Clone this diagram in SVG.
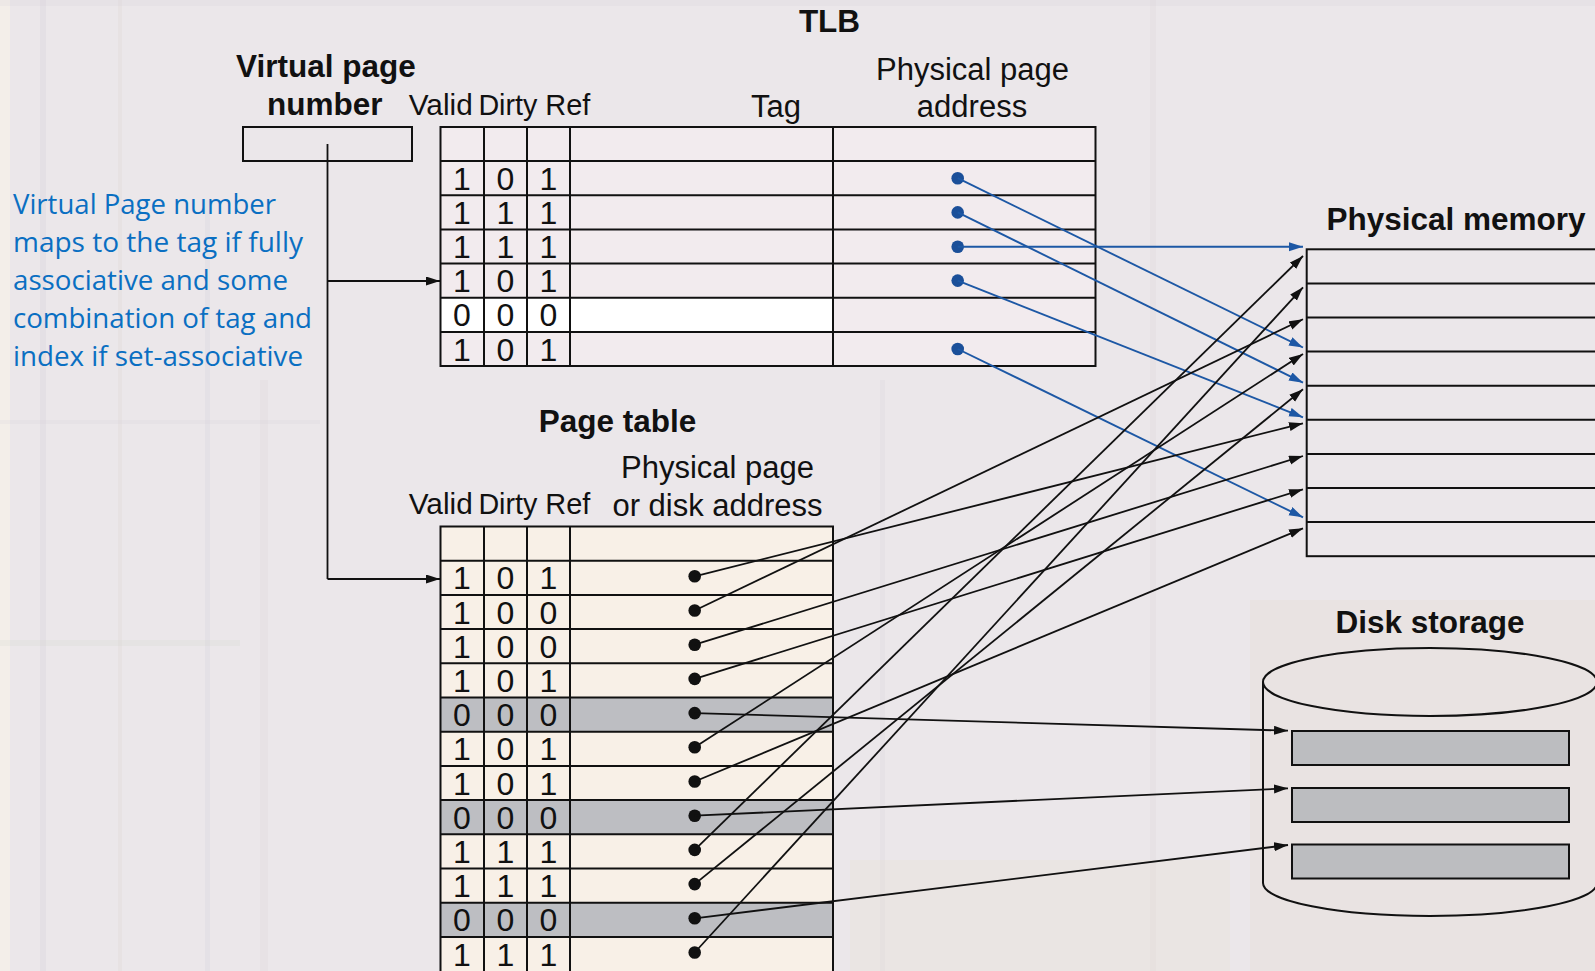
<svg xmlns="http://www.w3.org/2000/svg" width="1595" height="971" viewBox="0 0 1595 971">
  <style>
    .lbl { font-family: "Liberation Sans", Arial, sans-serif; fill: #111; font-size: 31px; }
    .bold { font-family: "Liberation Sans", Arial, sans-serif; fill: #111; font-size: 31.5px; font-weight: bold; }
    .hdr { font-family: "Liberation Sans", Arial, sans-serif; fill: #111; font-size: 30px; }
    .bit { font-family: "Liberation Sans", Arial, sans-serif; fill: #111; font-size: 32px; text-anchor: middle; }
    .note { font-family: "Open Sans", "Noto Sans", sans-serif; fill: #0a6fc2; font-size: 28px; }
    .grid { fill: none; stroke: #111; stroke-width: 2; }
    .cellT { fill: #f7eef0; fill-opacity: 0.6; stroke: none; }
    .cellP { fill: #fcf3e6; fill-opacity: 0.75; stroke: none; }
    .gray { fill: #bdbec2; stroke: none; }
    .white { fill: #ffffff; stroke: none; }
    .wire { fill: none; stroke: #111; stroke-width: 1.8; }
    .wireB { fill: none; stroke: #1d58a5; stroke-width: 1.9; }
    .dot { fill: #111; }
    .dotB { fill: #1b4f99; }
    .stripe { opacity: 0.18; }
  </style>
  <defs>
    <marker id="arrowK" markerUnits="userSpaceOnUse" markerWidth="15" markerHeight="10" refX="14" refY="4.5" orient="auto">
      <path d="M0,0 L14,4.5 L0,9 z" fill="#111"/>
    </marker>
    <marker id="arrowB" markerUnits="userSpaceOnUse" markerWidth="15" markerHeight="10" refX="14" refY="4.5" orient="auto">
      <path d="M0,0 L14,4.5 L0,9 z" fill="#1d58a5"/>
    </marker>
  </defs>

  <!-- faint textured backdrop -->
  <g id="backdrop">
    <rect x="0" y="0" width="1595" height="971" fill="#ebe7ea"/>
    <rect x="0" y="0" width="10" height="971" fill="#f6f1e8" opacity="0.7"/>
    <rect class="stripe" x="40" y="0" width="6" height="971" fill="#c9c4d4"/>
    <rect class="stripe" x="118" y="0" width="4" height="971" fill="#d8cfc6"/>
    <rect class="stripe" x="205" y="200" width="5" height="771" fill="#c8c6d6"/>
    <rect class="stripe" x="260" y="380" width="8" height="591" fill="#d6ccd0"/>
    <rect class="stripe" x="0" y="640" width="240" height="6" fill="#cfd4c6"/>
    <rect class="stripe" x="0" y="420" width="320" height="4" fill="#d5cdd8"/>
    <rect class="stripe" x="880" y="380" width="5" height="591" fill="#d2cdd6"/>
    <rect class="stripe" x="1150" y="0" width="6" height="971" fill="#d6cfd2"/>
    <rect class="stripe" x="1250" y="600" width="345" height="371" fill="#e6d2c4"/>
    <rect class="stripe" x="850" y="860" width="380" height="111" fill="#e8e0c8"/>
    <rect class="stripe" x="0" y="0" width="1595" height="6" fill="#d2ccd6"/>
  </g>

  <!-- virtual page number register -->
  <g id="vpn">
    <text class="bold" x="236" y="77">Virtual page</text>
    <text class="bold" x="267" y="115">number</text>
    <rect class="grid" x="243" y="127" width="169" height="34"/>
  </g>

  <!-- explanatory note -->
  <g id="note">
    <text class="note" x="13" y="213.5" textLength="263" lengthAdjust="spacingAndGlyphs">Virtual Page number</text>
    <text class="note" x="13" y="251.5" textLength="290" lengthAdjust="spacingAndGlyphs">maps to the tag if fully</text>
    <text class="note" x="13" y="289.5" textLength="275" lengthAdjust="spacingAndGlyphs">associative and some</text>
    <text class="note" x="13" y="327.5" textLength="299" lengthAdjust="spacingAndGlyphs">combination of tag and</text>
    <text class="note" x="13" y="365.5" textLength="290" lengthAdjust="spacingAndGlyphs">index if set-associative</text>
  </g>

  <!-- TLB -->
  <g id="tlb">
    <text class="bold" x="829.5" y="32" text-anchor="middle">TLB</text>
    <text class="hdr" x="408.7" y="115" textLength="64" lengthAdjust="spacingAndGlyphs">Valid</text>
    <text class="hdr" x="478.4" y="115" textLength="59" lengthAdjust="spacingAndGlyphs">Dirty</text>
    <text class="hdr" x="545.3" y="115" textLength="45" lengthAdjust="spacingAndGlyphs">Ref</text>
    <text class="lbl" x="776" y="117" text-anchor="middle">Tag</text>
    <text class="lbl" x="972.5" y="80" text-anchor="middle">Physical page</text>
    <text class="lbl" x="972" y="117" text-anchor="middle">address</text>

    <rect class="cellT" x="440.5" y="127" width="655" height="239"/>
    <rect class="white" x="440.5" y="297.7" width="392.5" height="34.2"/>
    <rect class="grid" x="440.5" y="127" width="655" height="239"/>
    <path class="grid" d="M440.5,161.1H1095.5 M440.5,195.3H1095.5 M440.5,229.4H1095.5 M440.5,263.6H1095.5 M440.5,297.7H1095.5 M440.5,331.9H1095.5"/>
    <path class="grid" d="M484,127V366 M527,127V366 M570,127V366 M833,127V366"/>

    <g class="bits">
      <text class="bit" x="462" y="189.7">1</text><text class="bit" x="505.5" y="189.7">0</text><text class="bit" x="548.5" y="189.7">1</text>
      <text class="bit" x="462" y="223.9">1</text><text class="bit" x="505.5" y="223.9">1</text><text class="bit" x="548.5" y="223.9">1</text>
      <text class="bit" x="462" y="258">1</text><text class="bit" x="505.5" y="258">1</text><text class="bit" x="548.5" y="258">1</text>
      <text class="bit" x="462" y="292.1">1</text><text class="bit" x="505.5" y="292.1">0</text><text class="bit" x="548.5" y="292.1">1</text>
      <text class="bit" x="462" y="326.3">0</text><text class="bit" x="505.5" y="326.3">0</text><text class="bit" x="548.5" y="326.3">0</text>
      <text class="bit" x="462" y="360.5">1</text><text class="bit" x="505.5" y="360.5">0</text><text class="bit" x="548.5" y="360.5">1</text>
    </g>
    <circle class="dotB" cx="957.7" cy="178.2" r="6.3"/>
    <circle class="dotB" cx="957.7" cy="212.4" r="6.3"/>
    <circle class="dotB" cx="957.7" cy="246.8" r="6.3"/>
    <circle class="dotB" cx="957.7" cy="280.6" r="6.3"/>
    <circle class="dotB" cx="957.7" cy="349" r="6.3"/>
  </g>

  <!-- page table -->
  <g id="page-table">
    <text class="bold" x="617.5" y="432" text-anchor="middle">Page table</text>
    <text class="lbl" x="717.5" y="478" text-anchor="middle">Physical page</text>
    <text class="lbl" x="717.5" y="515.5" text-anchor="middle">or disk address</text>
    <text class="hdr" x="408.7" y="513.5" textLength="64" lengthAdjust="spacingAndGlyphs">Valid</text>
    <text class="hdr" x="478.4" y="513.5" textLength="59" lengthAdjust="spacingAndGlyphs">Dirty</text>
    <text class="hdr" x="545.3" y="513.5" textLength="45" lengthAdjust="spacingAndGlyphs">Ref</text>

    <rect class="cellP" x="440.5" y="526.5" width="392.5" height="446"/>
    <rect class="gray" x="440.5" y="697.5" width="392.5" height="34.2"/>
    <rect class="gray" x="440.5" y="800.1" width="392.5" height="34.2"/>
    <rect class="gray" x="440.5" y="902.7" width="392.5" height="34.2"/>
    <rect class="grid" x="440.5" y="526.5" width="392.5" height="446"/>
    <path class="grid" d="M440.5,560.7H833 M440.5,594.9H833 M440.5,629.1H833 M440.5,663.3H833 M440.5,697.5H833 M440.5,731.7H833 M440.5,765.9H833 M440.5,800.1H833 M440.5,834.3H833 M440.5,868.5H833 M440.5,902.7H833 M440.5,936.9H833"/>
    <path class="grid" d="M484,526.5V972 M527,526.5V972 M570,526.5V972"/>

    <g class="bits">
      <text class="bit" x="462" y="589.3">1</text><text class="bit" x="505.5" y="589.3">0</text><text class="bit" x="548.5" y="589.3">1</text>
      <text class="bit" x="462" y="623.5">1</text><text class="bit" x="505.5" y="623.5">0</text><text class="bit" x="548.5" y="623.5">0</text>
      <text class="bit" x="462" y="657.7">1</text><text class="bit" x="505.5" y="657.7">0</text><text class="bit" x="548.5" y="657.7">0</text>
      <text class="bit" x="462" y="691.9">1</text><text class="bit" x="505.5" y="691.9">0</text><text class="bit" x="548.5" y="691.9">1</text>
      <text class="bit" x="462" y="726.1">0</text><text class="bit" x="505.5" y="726.1">0</text><text class="bit" x="548.5" y="726.1">0</text>
      <text class="bit" x="462" y="760.3">1</text><text class="bit" x="505.5" y="760.3">0</text><text class="bit" x="548.5" y="760.3">1</text>
      <text class="bit" x="462" y="794.5">1</text><text class="bit" x="505.5" y="794.5">0</text><text class="bit" x="548.5" y="794.5">1</text>
      <text class="bit" x="462" y="828.7">0</text><text class="bit" x="505.5" y="828.7">0</text><text class="bit" x="548.5" y="828.7">0</text>
      <text class="bit" x="462" y="862.9">1</text><text class="bit" x="505.5" y="862.9">1</text><text class="bit" x="548.5" y="862.9">1</text>
      <text class="bit" x="462" y="897.1">1</text><text class="bit" x="505.5" y="897.1">1</text><text class="bit" x="548.5" y="897.1">1</text>
      <text class="bit" x="462" y="931.3">0</text><text class="bit" x="505.5" y="931.3">0</text><text class="bit" x="548.5" y="931.3">0</text>
      <text class="bit" x="462" y="965.5">1</text><text class="bit" x="505.5" y="965.5">1</text><text class="bit" x="548.5" y="965.5">1</text>
    </g>
    <circle class="dot" cx="694.7" cy="576.3" r="6.3"/>
    <circle class="dot" cx="694.7" cy="610.5" r="6.3"/>
    <circle class="dot" cx="694.7" cy="644.7" r="6.3"/>
    <circle class="dot" cx="694.7" cy="678.9" r="6.3"/>
    <circle class="dot" cx="694.7" cy="713.1" r="6.3"/>
    <circle class="dot" cx="694.7" cy="747.3" r="6.3"/>
    <circle class="dot" cx="694.7" cy="781.5" r="6.3"/>
    <circle class="dot" cx="694.7" cy="815.7" r="6.3"/>
    <circle class="dot" cx="694.7" cy="849.9" r="6.3"/>
    <circle class="dot" cx="694.7" cy="884.1" r="6.3"/>
    <circle class="dot" cx="694.7" cy="918.3" r="6.3"/>
    <circle class="dot" cx="694.7" cy="952.5" r="6.3"/>
  </g>

  <!-- physical memory -->
  <g id="physical-memory">
    <text class="bold" x="1326.5" y="230">Physical memory</text>
    <rect class="grid" x="1306.7" y="249.3" width="300" height="306.9"/>
    <path class="grid" d="M1306.7,283.4H1600 M1306.7,317.5H1600 M1306.7,351.6H1600 M1306.7,385.7H1600 M1306.7,419.8H1600 M1306.7,453.9H1600 M1306.7,488H1600 M1306.7,522.1H1600"/>
  </g>

  <!-- disk storage -->
  <g id="disk-storage">
    <text class="bold" x="1335.5" y="633">Disk storage</text>
    <ellipse class="grid" cx="1430" cy="682" rx="167" ry="34"/>
    <path class="grid" d="M1263,682V883 A167,33 0 0 0 1597,883 V682"/>
    <rect x="1292" y="731" width="277" height="34" fill="#bcbdc0" stroke="#111" stroke-width="2"/>
    <rect x="1292" y="788" width="277" height="34" fill="#bcbdc0" stroke="#111" stroke-width="2"/>
    <rect x="1292" y="844.5" width="277" height="34" fill="#bcbdc0" stroke="#111" stroke-width="2"/>
  </g>

  <!-- connectors -->
  <g id="connectors">
    <!-- virtual page number fan-out -->
    <path class="wire" d="M327.5,144V579 M327.5,281H440" marker-end="url(#arrowK)"/>
    <path class="wire" d="M327.5,579H440" marker-end="url(#arrowK)"/>

    <!-- TLB entries into physical memory -->
    <line class="wireB" x1="957.7" y1="178.2" x2="1303" y2="347.5" marker-end="url(#arrowB)"/>
    <line class="wireB" x1="957.7" y1="212.4" x2="1303" y2="382.7" marker-end="url(#arrowB)"/>
    <line class="wireB" x1="957.7" y1="246.8" x2="1303" y2="246.8" marker-end="url(#arrowB)"/>
    <line class="wireB" x1="957.7" y1="280.6" x2="1303" y2="417.3" marker-end="url(#arrowB)"/>
    <line class="wireB" x1="957.7" y1="349" x2="1303" y2="517.3" marker-end="url(#arrowB)"/>

    <!-- page table entries into physical memory -->
    <line class="wire" x1="694.7" y1="576.3" x2="1303" y2="423.3" marker-end="url(#arrowK)"/>
    <line class="wire" x1="694.7" y1="610.5" x2="1303" y2="319.3" marker-end="url(#arrowK)"/>
    <line class="wire" x1="694.7" y1="644.7" x2="1303" y2="456" marker-end="url(#arrowK)"/>
    <line class="wire" x1="694.7" y1="678.9" x2="1303" y2="489.3" marker-end="url(#arrowK)"/>
    <line class="wire" x1="694.7" y1="747.3" x2="1303" y2="354" marker-end="url(#arrowK)"/>
    <line class="wire" x1="694.7" y1="781.5" x2="1303" y2="528.3" marker-end="url(#arrowK)"/>
    <line class="wire" x1="694.7" y1="849.9" x2="1303" y2="256" marker-end="url(#arrowK)"/>
    <line class="wire" x1="694.7" y1="884.1" x2="1303" y2="389.3" marker-end="url(#arrowK)"/>
    <line class="wire" x1="694.7" y1="952.5" x2="1303" y2="287.3" marker-end="url(#arrowK)"/>

    <!-- page table entries out on disk -->
    <line class="wire" x1="694.7" y1="713.1" x2="1288" y2="730.7" marker-end="url(#arrowK)"/>
    <line class="wire" x1="694.7" y1="815.7" x2="1288" y2="788.3" marker-end="url(#arrowK)"/>
    <line class="wire" x1="694.7" y1="918.3" x2="1288" y2="845" marker-end="url(#arrowK)"/>
  </g>
</svg>
